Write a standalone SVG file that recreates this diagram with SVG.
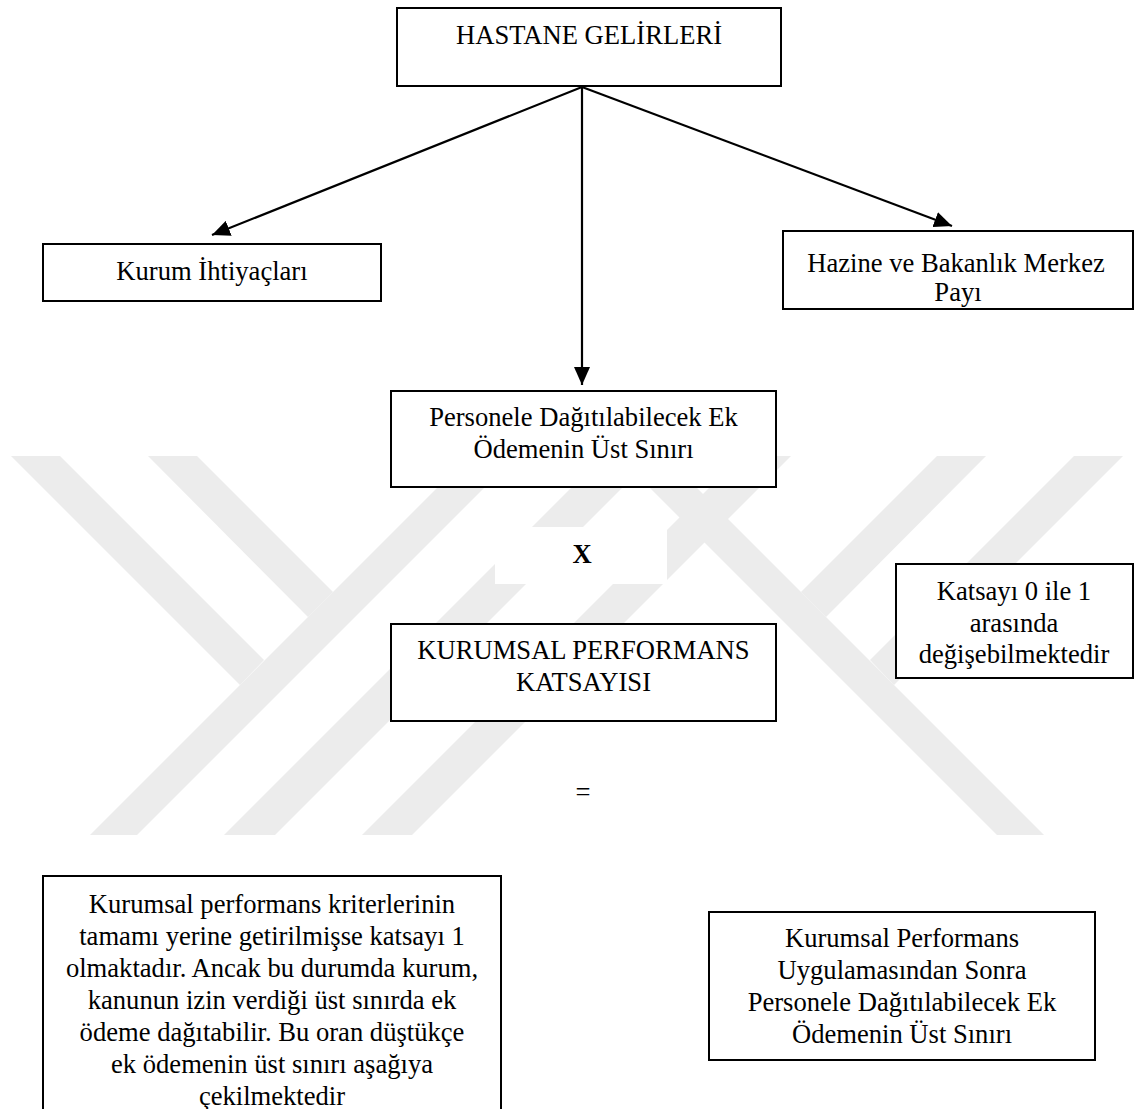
<svg xmlns="http://www.w3.org/2000/svg" width="1134" height="1109" viewBox="0 0 1134 1109">
<defs>
<style>
.box{fill:#fff;stroke:#000;stroke-width:2}
.t{font-family:"Liberation Serif","Times New Roman",serif;font-size:26.6px;fill:#000;text-anchor:middle}
.b{font-weight:bold}
.wm{fill:#ececec}
.edge{stroke:#000;stroke-width:2.2;fill:none}
</style>
<marker id="ah" markerUnits="userSpaceOnUse" markerWidth="20" markerHeight="16" refX="18" refY="8" orient="auto">
<path d="M0,0 L18,8 L0,16 Z" fill="#000"/>
</marker>
</defs>
<rect width="1134" height="1109" fill="#fff"/>
<g id="watermark">
<polygon class="wm" points="11,456 60,456 264,660 240,685"/>
<polygon class="wm" points="148,456 197,456 333,592 308,617"/>
<polygon class="wm" points="469,456 516,456 137,835 90,835"/>
<polygon class="wm" points="603,456 654,456 275,835 224,835"/>
<polygon class="wm" points="741,456 791,456 412,835 362,835"/>
<polygon class="wm" points="618,456 665,456 1044,835 997,835"/>
<polygon class="wm" points="937,456 986,456 826,617 801,592"/>
<polygon class="wm" points="1074,456 1123,456 894,685 870,660"/>
</g>
<g id="connectors">
<line class="edge" x1="582" y1="87" x2="212" y2="235" marker-end="url(#ah)"/>
<line class="edge" x1="582" y1="87" x2="582" y2="385" marker-end="url(#ah)"/>
<line class="edge" x1="582" y1="87" x2="952" y2="226" marker-end="url(#ah)"/>
</g>
<g id="hastane">
<rect class="box" x="397" y="8" width="384" height="78"/>
<text class="t" x="589" y="44">HASTANE GELİRLERİ</text>
</g>
<g id="kurum">
<rect class="box" x="43" y="244" width="338" height="57"/>
<text class="t" x="212" y="280">Kurum İhtiyaçları</text>
</g>
<g id="hazine">
<rect class="box" x="783" y="231" width="350" height="78"/>
<text class="t" x="956" y="272">Hazine ve Bakanlık Merkez</text>
<text class="t" x="958" y="301">Payı</text>
</g>
<g id="personele">
<rect class="box" x="391" y="391" width="385" height="96"/>
<text class="t" x="583.5" y="426">Personele Dağıtılabilecek Ek</text>
<text class="t" x="583.5" y="458">Ödemenin Üst Sınırı</text>
</g>
<g id="carpi">
<rect x="495" y="527" width="172" height="57" fill="#fff"/>
<text class="t b" x="582" y="563">X</text>
</g>
<g id="katsayi">
<rect class="box" x="391" y="624" width="385" height="97"/>
<text class="t" x="583.5" y="659">KURUMSAL PERFORMANS</text>
<text class="t" x="583.5" y="691">KATSAYISI</text>
</g>
<g id="aralik">
<rect class="box" x="896" y="564" width="237" height="114"/>
<text class="t" x="1014" y="600">Katsayı 0 ile 1</text>
<text class="t" x="1014" y="631.5">arasında</text>
<text class="t" x="1014" y="663">değişebilmektedir</text>
</g>
<g id="esittir">
<rect x="497" y="766" width="113" height="57" fill="#fff"/>
<text class="t" x="583" y="801">=</text>
</g>
<g id="aciklama">
<rect class="box" x="43" y="876" width="458" height="240"/>
<text class="t" x="272" y="913">Kurumsal performans kriterlerinin</text>
<text class="t" x="272" y="945">tamamı yerine getirilmişse katsayı 1</text>
<text class="t" x="272" y="977">olmaktadır. Ancak bu durumda kurum,</text>
<text class="t" x="272" y="1009">kanunun izin verdiği üst sınırda ek</text>
<text class="t" x="272" y="1041">ödeme dağıtabilir. Bu oran düştükçe</text>
<text class="t" x="272" y="1073">ek ödemenin üst sınırı aşağıya</text>
<text class="t" x="272" y="1105">çekilmektedir</text>
</g>
<g id="sonuc">
<rect class="box" x="709" y="912" width="386" height="148"/>
<text class="t" x="902" y="947">Kurumsal Performans</text>
<text class="t" x="902" y="979">Uygulamasından Sonra</text>
<text class="t" x="902" y="1011">Personele Dağıtılabilecek Ek</text>
<text class="t" x="902" y="1043">Ödemenin Üst Sınırı</text>
</g>
</svg>
